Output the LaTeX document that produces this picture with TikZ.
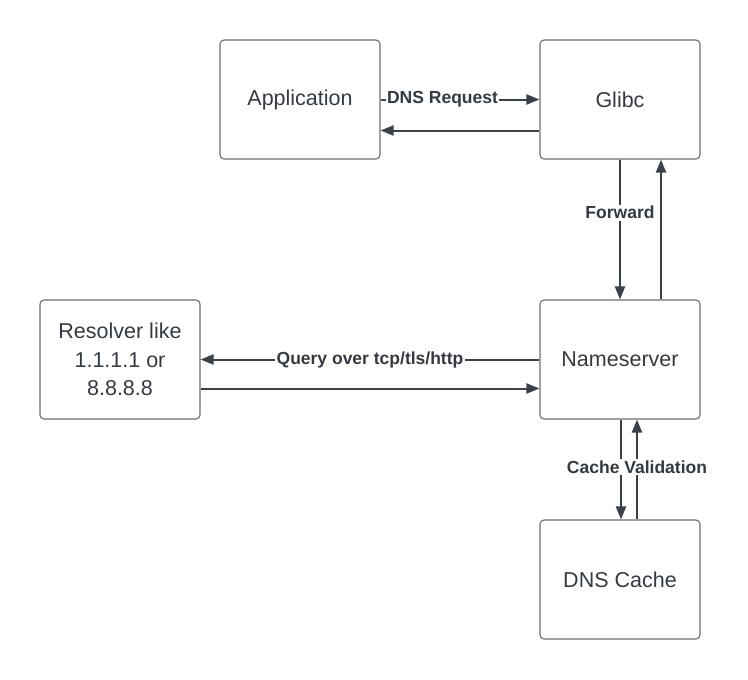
\documentclass[tikz,border=0pt]{standalone}
\usepackage{fontspec}
\setmainfont{Liberation Sans}
\usetikzlibrary{arrows.meta}
\definecolor{linec}{HTML}{3A414A}
\definecolor{boxc}{HTML}{6E6E6E}
\definecolor{textc}{HTML}{333A42}
\tikzset{
  box/.style={draw=boxc, line width=1.1pt, rounded corners=4pt, minimum width=160pt, minimum height=119pt, align=center, text=textc, font=\fontsize{21.5}{28.5}\selectfont, inner sep=0pt},
  arr/.style={draw=linec, line width=2pt, -{Triangle[length=13pt,width=10pt]}},
  lbl/.style={fill=white, inner sep=1.5pt, text=textc, font=\fontsize{17.5}{20}\selectfont\bfseries}
}
\begin{document}
\begin{tikzpicture}[x=1pt,y=-1pt]
\useasboundingbox (0,0) rectangle (748,680);
\node[box] (app) at (300,99.5) {Application};
\node[box] (glibc) at (620,99.5) {Glibc};
\node[box] (res) at (120,359.5) {Resolver like\\1.1.1.1 or\\8.8.8.8};
\node[box] (ns) at (620,359.5) {Nameserver};
\node[box] (cache) at (620,579.5) {DNS Cache};
\draw[arr] (app.east) -- node[lbl, pos=0.39] {DNS Request} (glibc.west);
\draw[arr] ([yshift=-31pt]glibc.west) -- ([yshift=-31pt]app.east);
\draw[arr] (glibc.south) -- node[lbl, pos=0.38] {Forward} (ns.north);
\draw[arr] ([xshift=41pt]ns.north) -- ([xshift=41pt]glibc.south);
\draw[arr] (ns.west) -- node[lbl] {Query over tcp/tls/http} (res.east);
\draw[arr] ([yshift=-29pt]res.east) -- ([yshift=-29pt]ns.west);
\draw[arr] ([xshift=1pt]ns.south) -- ([xshift=1pt]cache.north);
\draw[arr] ([xshift=17pt]cache.north) -- node[lbl, pos=0.525] {Cache Validation} ([xshift=17pt]ns.south);
\end{tikzpicture}
\end{document}
